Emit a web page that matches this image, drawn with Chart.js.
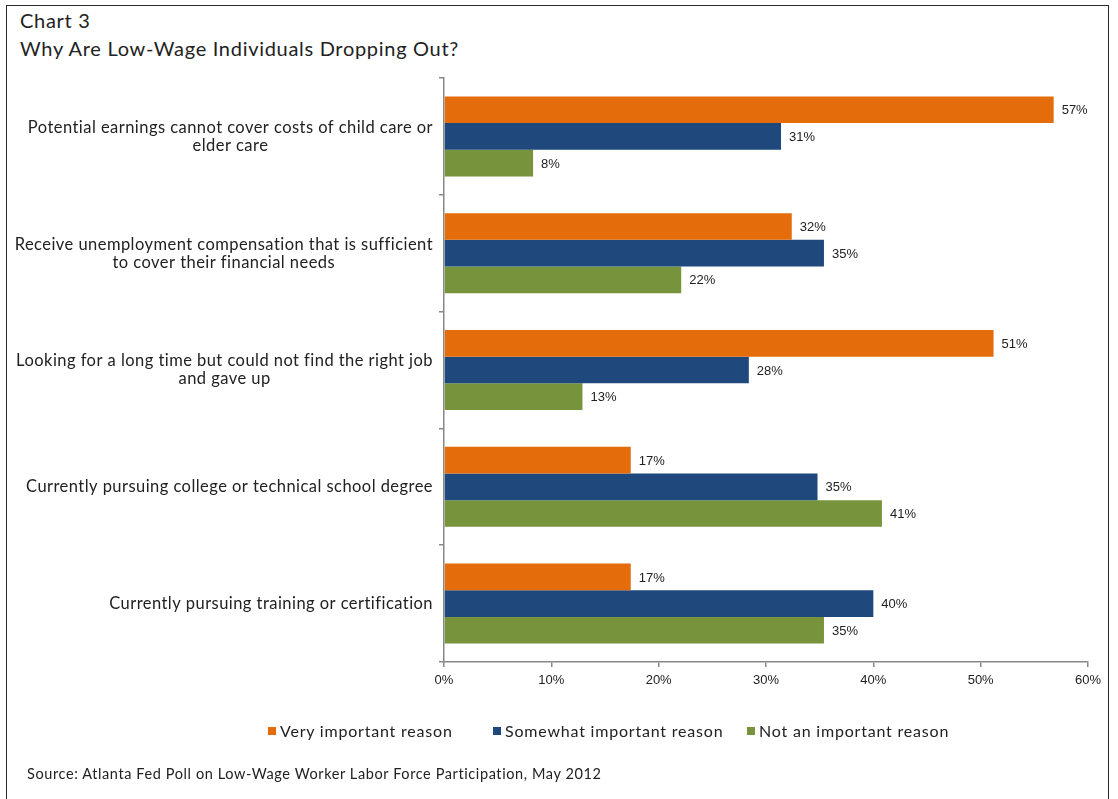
<!DOCTYPE html>
<html><head><meta charset="utf-8">
<script src="https://cdn.jsdelivr.net/npm/chart.js@4/dist/chart.umd.min.js"></script>
<style>
html,body{margin:0;padding:0;background:#fff;}
#wrap{position:relative;width:1118px;height:799px;overflow:hidden;font-family:Lato,sans-serif;color:#222;}
#frame{position:absolute;left:6px;top:5px;width:1103px;height:820px;border:1.5px solid #2a2a2a;box-sizing:border-box;}
#t1{position:absolute;left:20px;top:8px;font-size:20px;line-height:24px;letter-spacing:0.7px;white-space:nowrap;}
#t2{position:absolute;left:20px;top:36px;font-size:20px;line-height:24px;letter-spacing:0.7px;white-space:nowrap;}
canvas{position:absolute;left:0;top:0;}
#legend{position:absolute;top:720px;left:268px;display:flex;font-size:16px;line-height:22px;letter-spacing:0.8px;white-space:nowrap;}
.item{display:flex;align-items:center;}
.sw{width:8px;height:8px;margin-right:4px;}
#src{position:absolute;left:27px;top:765px;font-size:14.5px;line-height:18px;letter-spacing:0.6px;white-space:nowrap;}
</style></head>
<body>
<div id="wrap">
  <div id="frame"></div>
  <div id="t1">Chart 3</div>
  <div id="t2">Why Are Low-Wage Individuals Dropping Out?</div>
  <canvas id="c" width="1118" height="799"></canvas>
  <div id="legend"></div>
  <div id="src">Source: Atlanta Fed Poll on Low-Wage Worker Labor Force Participation, May 2012</div>
</div>
<script>
const categories = [
  ["Potential earnings cannot cover costs of child care or", "elder care"],
  ["Receive unemployment compensation that is sufficient", "to cover their financial needs"],
  ["Looking for a long time but could not find the right job", "and gave up"],
  ["Currently pursuing college or technical school degree"],
  ["Currently pursuing training or certification"]
];
const seriesNames = ["Very important reason", "Somewhat important reason", "Not an important reason"];
const veryImportant = [56.8, 32.4, 51.2, 17.4, 17.4];
const somewhatImportant = [31.4, 35.4, 28.4, 34.8, 40.0];
const notImportant = [8.3, 22.1, 12.9, 40.8, 35.4];
const xTickValues = [0, 10, 20, 30, 40, 50, 60];

const colors = ["#E46C0A", "#1F497D", "#77933C"];
const legendSlots = [225, 254, 240];

const labelPlugin = {
  id: 'customLabels',
  afterDatasetsDraw(chart) {
    const ctx = chart.ctx, ys = chart.scales.y, area = chart.chartArea;
    ctx.save();
    ctx.fillStyle = '#222';
    ctx.textBaseline = 'middle';
    ctx.font = '16.5px Lato';
    if ('letterSpacing' in ctx) ctx.letterSpacing = '0.45px';
    ctx.textAlign = 'center';
    categories.forEach((lines, i) => {
      const cy = ys.getPixelForValue(i);
      const w = Math.max(...lines.map(l => ctx.measureText(l).width));
      const cx = area.left - 11 - w / 2;
      const lh = 18;
      lines.forEach((l, j) => ctx.fillText(l, cx, cy + (j - (lines.length - 1) / 2) * lh));
    });
    if ('letterSpacing' in ctx) ctx.letterSpacing = '0px';
    ctx.font = '13px "Liberation Sans"';
    ctx.textAlign = 'left';
    chart.data.datasets.forEach((ds, di) => {
      chart.getDatasetMeta(di).data.forEach((bar, i) => {
        ctx.fillText(Math.round(ds.data[i]) + '%', bar.x + 8, bar.y + 1);
      });
    });
    ctx.restore();
  }
};

function build() {
  const lg = document.getElementById('legend');
  seriesNames.forEach((n, i) => {
    const it = document.createElement('div');
    it.className = 'item';
    it.style.width = legendSlots[i] + 'px';
    it.innerHTML = '<span class="sw" style="background:' + colors[i] + '"></span><span>' + n + '</span>';
    lg.appendChild(it);
  });
  const series = [veryImportant, somewhatImportant, notImportant];
  new Chart(document.getElementById('c'), {
    type: 'bar',
    data: {
      labels: categories,
      datasets: series.map((d, i) => ({
        label: seriesNames[i], data: d, backgroundColor: colors[i],
        borderWidth: 0, categoryPercentage: 0.685, barPercentage: 1.0
      }))
    },
    options: {
      indexAxis: 'y',
      responsive: false,
      animation: false,
      devicePixelRatio: 1,
      layout: { padding: { left: 434, right: 30, top: 78, bottom: 107 } },
      plugins: { legend: { display: false }, title: { display: false }, tooltip: { enabled: false } },
      scales: {
        x: {
          min: 0, max: 60,
          afterBuildTicks(s) { s.ticks = xTickValues.map(v => ({ value: v })); },
          ticks: { callback: v => v + '%', color: '#222', font: { family: 'Liberation Sans', size: 13 }, padding: 6, maxRotation: 0, autoSkip: false },
          grid: { drawOnChartArea: false, tickLength: 5, color: '#888', lineWidth: 1.5 },
          border: { color: '#888', width: 1.5 },
          afterFit(s) { s.height = 30; }
        },
        y: {
          ticks: { display: false },
          grid: { drawOnChartArea: false, tickLength: 5, color: '#888', offset: true, lineWidth: 1.5 },
          border: { color: '#888', width: 1.5 },
          afterFit(s) { s.width = 10; }
        }
      }
    },
    plugins: [labelPlugin]
  });
}
const fontLoads = [document.fonts.load('16px Lato'), document.fonts.load('13px "Liberation Sans"')];
Promise.race([Promise.all(fontLoads), new Promise(r => setTimeout(r, 800))]).then(build, build);
</script>
</body></html>
